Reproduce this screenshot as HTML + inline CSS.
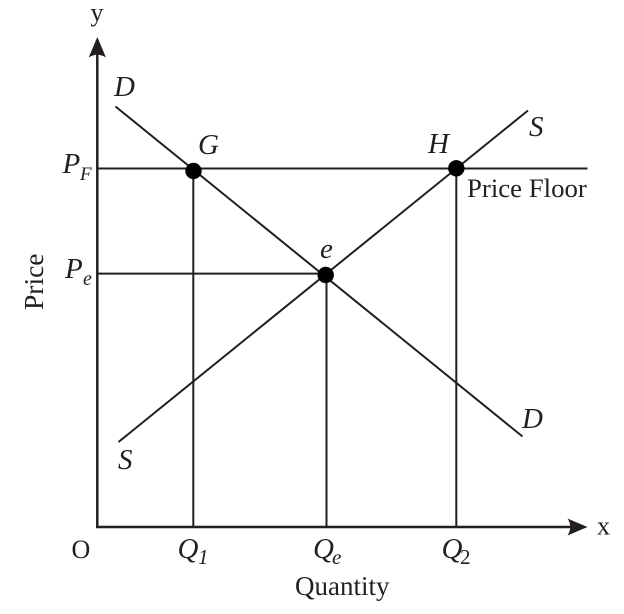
<!DOCTYPE html>
<html><head><meta charset="utf-8"><style>
html,body{margin:0;padding:0;background:#fff;width:624px;height:614px;overflow:hidden}
svg{display:block}
text{font-family:"Liberation Serif",serif;fill:#231f20}
.i{font-style:italic}
</style></head><body>
<svg width="624" height="614" viewBox="0 0 624 614" xmlns="http://www.w3.org/2000/svg">
<rect width="624" height="614" fill="#fff"/>
<g stroke="#231f20" fill="none" stroke-linecap="butt">
<path d="M97.300 527V50M96 527H575" stroke-width="2.500"/>
<path d="M97 168.500H587.500M97 273.600H326M193.300 168V527M326.500 275V527M456.300 168V527" stroke-width="2"/>
<path d="M115.500 106.500L522.500 436.500M118.500 442L528 110.500" stroke-width="2"/>
</g>
<path d="M97.300 37L106 57.500Q97.300 52 88.700 57.500Z" fill="#231f20"/>
<path d="M587.500 527L567.500 518.500Q573 527 567.500 535.500Z" fill="#231f20"/>
<circle cx="193.500" cy="171" r="8.200" fill="#000"/>
<circle cx="456.300" cy="168.300" r="8.200" fill="#000"/>
<circle cx="325.700" cy="275" r="8.200" fill="#000"/>
<text x="90.500" y="21" font-size="26">y</text>
<text x="597" y="534.500" font-size="26">x</text>
<text x="71.500" y="558" font-size="26">O</text>
<text class="i" x="114" y="96" font-size="29">D</text>
<text class="i" x="198" y="154" font-size="29">G</text>
<text class="i" x="428" y="153" font-size="29">H</text>
<text class="i" x="529" y="136" font-size="29">S</text>
<text class="i" x="320" y="258" font-size="29">e</text>
<text class="i" x="522" y="428" font-size="29">D</text>
<text class="i" x="118" y="469" font-size="29">S</text>
<text class="i" x="62.500" y="173" font-size="29">P</text>
<text class="i" x="80" y="180" font-size="19">F</text>
<text class="i" x="65" y="278" font-size="29">P</text>
<text class="i" x="83" y="285" font-size="20">e</text>
<text class="i" x="177.500" y="558" font-size="29">Q</text>
<text class="i" x="198" y="564" font-size="21">1</text>
<text class="i" x="313" y="558" font-size="29">Q</text>
<text class="i" x="332" y="564" font-size="21">e</text>
<text class="i" x="441.500" y="558" font-size="29">Q</text>
<text x="460" y="564" font-size="21">2</text>
<text x="467" y="197" font-size="26.800">Price Floor</text>
<text x="295" y="595" font-size="27">Quantity</text>
<text transform="translate(43,310) rotate(-90)" font-size="27.500">Price</text>
</svg>
</body></html>
